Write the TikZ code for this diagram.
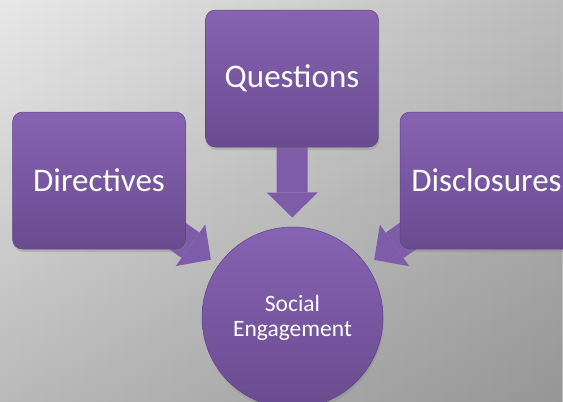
\documentclass[tikz,border=0pt]{standalone}
\usepackage{fontspec}
\setmainfont{Carlito}
\usetikzlibrary{arrows.meta,calc,shadows,fadings}
\pgfdeclarelayer{bg}
\pgfdeclarelayer{arr}
\pgfsetlayers{bg,arr,main}
\definecolor{bgL}{RGB}{232,232,232}
\definecolor{bgR}{RGB}{188,188,188}
\definecolor{boxTop}{RGB}{135,99,179}
\definecolor{boxBot}{RGB}{105,75,143}
\definecolor{boxLine}{RGB}{94,66,130}
\definecolor{arrowFill}{RGB}{126,92,170}
\begin{document}
\begin{tikzpicture}[x=1pt,y=-1pt,
  shapebase/.style={top color=boxTop, bottom color=boxBot, draw=boxLine,
    line width=0.5pt, text=white,
    drop shadow={opacity=0.3, shadow xshift=0.8pt, shadow yshift=-3pt}},
  box/.style={shapebase, rectangle, rounded corners=10pt,
    minimum width=173pt, minimum height=137pt, inner sep=0pt,
    font=\fontsize{33}{38}\selectfont},
  hub/.style={shapebase, circle, minimum size=181pt, inner sep=0pt,
    align=center, font=\fontsize{23.5}{25}\selectfont},
  conn/.style={line width=31pt, draw=arrowFill,
    -{Triangle[length=25pt,width=51pt,line width=0pt]}}]
\useasboundingbox (0,0) rectangle (563,402);
\clip (0,0) rectangle (563,402);
\begin{pgfonlayer}{bg}
  \shade[left color=bgL, right color=bgR] (0,0) rectangle (563,402);
  \fill[black, fill opacity=0.2, path fading=north] (0,0) rectangle (563,402);
\end{pgfonlayer}
\node[box] (qu) at (292,78.5) {Questions};
\node[box] (di) at (99,180.5) {Directives};
\node[box] (ds) at (486.5,180.5) {Disclosures};
\node[hub] (se) at (292.5,317.5) {Social\\Engagement};
\begin{pgfonlayer}{arr}
  \draw[conn] (qu.center) -- ($(se.center)!100pt!(qu.center)$);
  \draw[conn] (di.center) -- ($(se.center)!100pt!(di.center)$);
  \draw[conn] (ds.center) -- ($(se.center)!100pt!(ds.center)$);
\end{pgfonlayer}
\end{tikzpicture}
\end{document}
